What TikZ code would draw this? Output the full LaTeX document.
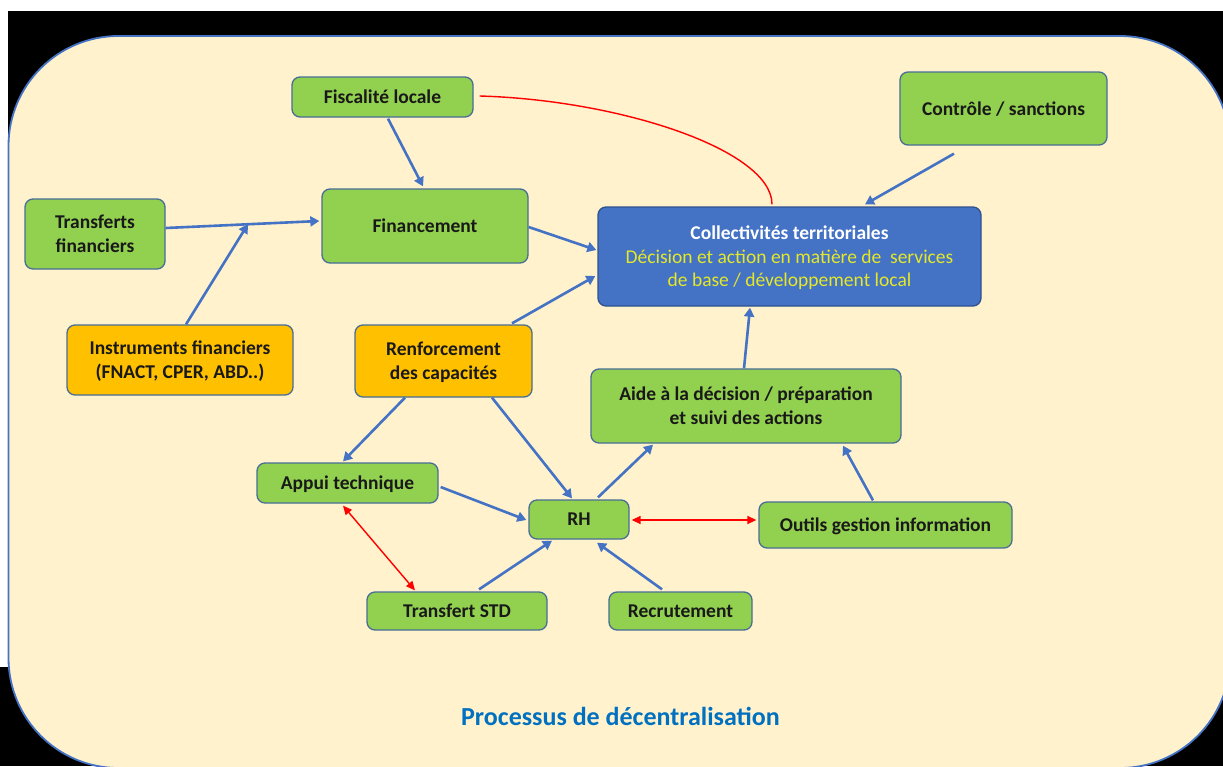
\documentclass[tikz,border=0pt]{standalone}
\usepackage{fontspec}
\setmainfont{Carlito}
\usetikzlibrary{arrows.meta,calc}
\definecolor{cream}{RGB}{255,242,204}
\definecolor{grn}{RGB}{146,208,80}
\definecolor{org}{RGB}{255,192,0}
\definecolor{bluebox}{RGB}{68,114,196}
\definecolor{bluebord}{RGB}{47,82,143}
\definecolor{edgec}{RGB}{72,110,150}
\definecolor{arrc}{RGB}{68,114,196}
\definecolor{ttl}{RGB}{0,112,192}
\definecolor{yel}{RGB}{228,232,40}
\definecolor{redc}{RGB}{255,0,0}
\begin{document}
\begin{tikzpicture}[x=1pt,y=-1pt,
  box/.style={draw=edgec, line width=1.3pt, rounded corners=8pt, fill=grn,
    align=center, inner sep=0pt, text=black!90, text depth=0pt,
    font=\bfseries\fontsize{19.5}{24}\selectfont},
  obox/.style={box, fill=org},
  arr/.style={draw=arrc, line width=2.6pt, -{Triangle[length=9pt,width=10pt]}},
  redarr/.style={draw=redc, line width=1.4pt, {Triangle[length=9pt,width=8pt]}-{Triangle[length=9pt,width=8pt]}},
  redline/.style={draw=redc, line width=1.4pt}]
\useasboundingbox (0,0) rectangle (1223,766);
\fill[white] (0,0) rectangle (1223,766);
\fill[black] (8,11) rectangle (1223,766);
\fill[black] (0,667) rectangle (8,766);
\draw[draw=arrc, line width=1.8pt, fill=cream, rounded corners=110pt] (8.5,36) rectangle (1230,768);

\node[box, minimum width=181, minimum height=40] (fisc) at (382.5,97) {Fiscalité locale};
\node[box, minimum width=206, minimum height=74] (fin) at (425,226) {Financement};
\node[box, minimum width=140, minimum height=70] (trf) at (95,234) {Transferts\\financiers};
\node[obox, minimum width=226, minimum height=70] (inst) at (180,360) {Instruments financiers\\(FNACT, CPER, ABD..)};
\node[obox, minimum width=177, minimum height=72] (renf) at (443.5,361) {Renforcement\\des capacités};
\node[box, fill=bluebox, draw=bluebord, minimum width=383, minimum height=99, font=\fontsize{19.5}{23.5}\selectfont] (coll) at (789.5,256.5)
  {{\color{white}\bfseries Collectivités territoriales}\\{\color{yel}Décision et action en matière de\ \ services}\\{\color{yel}de base / développement local}};
\node[box, minimum width=207, minimum height=73] (ctrl) at (1003.5,108.5) {Contrôle / sanctions};
\node[box, minimum width=310, minimum height=74] (aide) at (746,406) {Aide à la décision / préparation\\et suivi des actions};
\node[box, minimum width=253, minimum height=46] (outil) at (885.5,525) {Outils gestion information};
\node[box, minimum width=100, minimum height=39] (rh) at (579,519.5) {RH};
\node[box, minimum width=181, minimum height=40] (appui) at (347.5,483) {Appui technique};
\node[box, minimum width=180, minimum height=38] (tstd) at (457,611) {Transfert STD};
\node[box, minimum width=143, minimum height=38] (recr) at (680.5,611) {Recrutement};

\node[anchor=base, text=ttl, font=\bfseries\fontsize{26}{30}\selectfont] (title) at (620.5,725) {Processus de décentralisation};

% connectors
\draw[arr] ($(fisc.south)+(5.5,1)$) -- ($(fin.north)+(-2,-2)$);
\coordinate (ta) at ($(trf.east)+(0,-6)$);
\coordinate (tb) at ($(fin.west)+(-2,-5)$);
\draw[arr] (ta) -- (tb);
\coordinate (j) at ($(ta)!0.535!(tb)$);
\draw[arr] ($(inst.north)+(6,0)$) -- (j);
\draw[arr] ($(fin.east)+(0,1)$) -- ($(coll.west)+(-1,-6.5)$);
\draw[arr] ($(renf.north)+(68.5,-1)$) -- ($(coll.west)+(-2,19.5)$);
\draw[redline] ($(fisc.east)+(6,-1)$) .. controls (620,100) and (772,150) .. ($(coll.north)+(-17.5,-2)$);
\draw[arr] ($(ctrl.south)+(-49.5,8)$) -- ($(coll.north)+(75.5,-2)$);
\draw[arr] ($(aide.north)+(-2,0)$) -- ($(coll.south)+(-39.5,1)$);
\draw[arr] ($(renf.south)+(-38.5,0)$) -- ($(appui.north)+(-4.5,-1)$);
\draw[arr] ($(renf.south)+(48.5,0)$) -- ($(rh.north)+(-7,-1)$);
\draw[arr] ($(appui.east)+(2,4)$) -- ($(rh.west)+(-2,0.5)$);
\draw[redarr] ($(appui.south)+(-4.5,2)$) -- ($(tstd.north)+(-42,-1)$);
\draw[arr] ($(tstd.north)+(22,-2)$) -- ($(rh.south)+(-27,1)$);
\draw[arr] ($(recr.north)+(-18.5,-2)$) -- ($(rh.south)+(18,3)$);
\draw[arr] ($(rh.north)+(19,-2)$) -- ($(aide.south)+(-93,1)$);
\draw[arr] ($(outil.north)+(-12.5,-1)$) -- ($(aide.south)+(97,2)$);
\draw[redarr] ($(rh.east)+(2,0.5)$) -- ($(outil.west)+(-2,-5)$);
\end{tikzpicture}
\end{document}
